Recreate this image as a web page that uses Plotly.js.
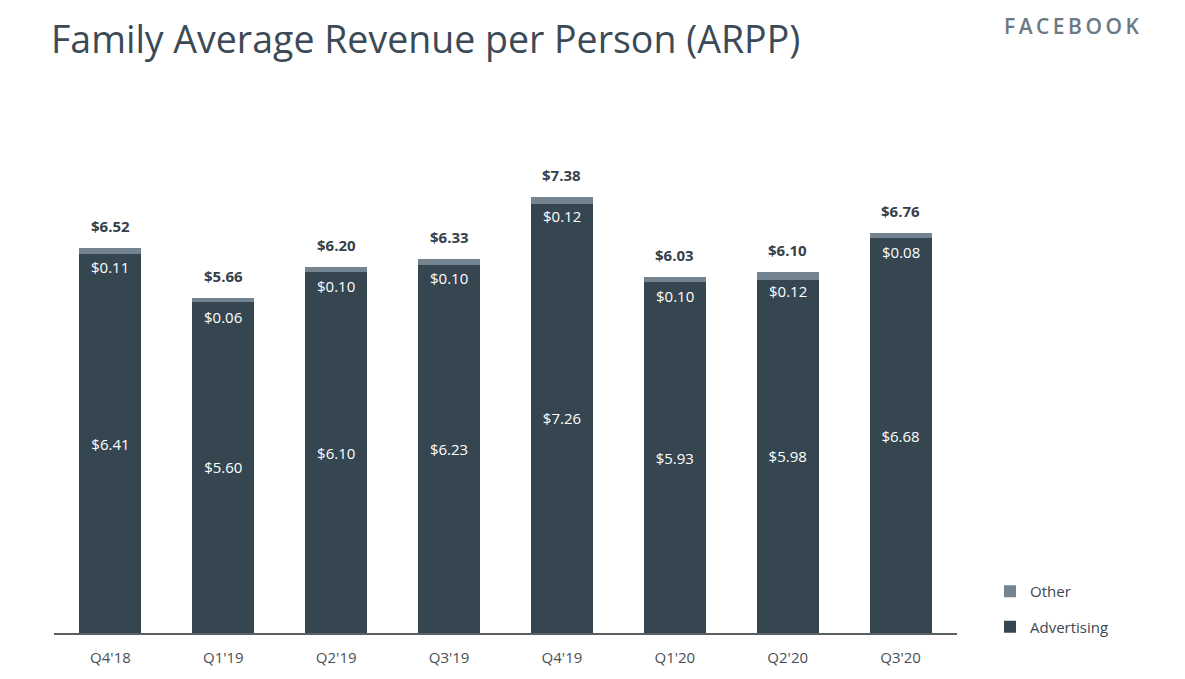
<!DOCTYPE html>
<html>
<head>
<meta charset="utf-8">
<script src="https://cdn.plot.ly/plotly-3.0.1.min.js"></script>
<style>html,body{margin:0;padding:0;background:#fff;}#chart{width:1185px;height:679px;}</style>
</head>
<body>
<div id="chart"></div>
<script>
const categories = ["Q4'18","Q1'19","Q2'19","Q3'19","Q4'19","Q1'20","Q2'20","Q3'20"];
const advertising = [6.41, 5.60, 6.10, 6.23, 7.26, 5.93, 5.98, 6.68];
const other = [0.11, 0.06, 0.10, 0.10, 0.12, 0.10, 0.12, 0.08];
const totals = [6.52, 5.66, 6.20, 6.33, 7.38, 6.03, 6.10, 6.76];

const fmt = v => '$' + v.toFixed(2);
const FONT = 'Open Sans, sans-serif';

const traces = [
  {
    type: 'bar', name: 'Advertising', x: categories, y: advertising,
    marker: {color: '#354651'}, width: 0.55,
    text: advertising.map(fmt), textposition: 'inside', insidetextanchor: 'middle',
    textfont: {color: '#ffffff', size: 15, family: FONT},
    legendgroup: 'a', legendrank: 2, hoverinfo: 'none'
  },
  {
    type: 'bar', name: 'Other', x: categories, y: other,
    marker: {color: '#73838f', line: {color: '#5f6e79', width: 0}}, width: 0.55,
    textposition: 'none',
    legendgroup: 'b', legendrank: 1, hoverinfo: 'none'
  }
];

const annotations = [];
categories.forEach((c, i) => {
  annotations.push({
    x: c, y: totals[i], xref: 'x', yref: 'y', text: fmt(other[i]), showarrow: false,
    yanchor: 'middle', yshift: -19, font: {color: '#ffffff', size: 15, family: FONT}
  });
  annotations.push({
    x: c, y: totals[i], xref: 'x', yref: 'y', text: '<b>' + fmt(totals[i]) + '</b>', showarrow: false,
    yanchor: 'middle', yshift: 22, font: {color: '#35414b', size: 15, family: FONT}
  });
});
annotations.push({
  text: 'F\u2009A\u2009C\u2009E\u2009B\u2009O\u2009O\u2009K', showarrow: false,
  font: {size: 21, color: '#6b7985', family: FONT, weight: 600},
  xref: 'paper', yref: 'paper', x: (1141 - 54) / (957 - 54), y: (633 - 26) / (633 - 101),
  xanchor: 'right', yanchor: 'middle'
});

const layout = {
  width: 1185, height: 679,
  paper_bgcolor: '#ffffff', plot_bgcolor: '#ffffff',
  margin: {l: 54, r: 228, t: 101, b: 46},
  barmode: 'stack',
  title: {
    text: 'Family Average Revenue per Person (ARPP)',
    font: {family: FONT, size: 37.5, color: '#3b4a56'},
    xref: 'container', yref: 'container', x: 51/1185, xanchor: 'left', y: 1 - 40/679, yanchor: 'middle'
  },
  xaxis: {
    type: 'category', range: [-0.5, 7.5], showgrid: false, zeroline: false,
    showline: true, linecolor: '#5a5f63', linewidth: 1.5,
    ticks: '', ticklabelstandoff: 10,
    tickfont: {family: FONT, size: 15, color: '#4a4f54'}
  },
  yaxis: {
    range: [0, 9], visible: false, showgrid: false, zeroline: false, fixedrange: true
  },
  showlegend: true,
  legend: {
    xref: 'container', yref: 'container', x: 990/1185, y: 1 - 575/679, xanchor: 'left', yanchor: 'top',
    traceorder: 'grouped', tracegroupgap: 13,
    font: {family: FONT, size: 15, color: '#3d4750'},
    bgcolor: 'rgba(0,0,0,0)'
  },
  annotations: annotations,
  font: {family: FONT}
};

Plotly.newPlot('chart', traces, layout, {displayModeBar: false, staticPlot: true});
</script>
</body>
</html>
